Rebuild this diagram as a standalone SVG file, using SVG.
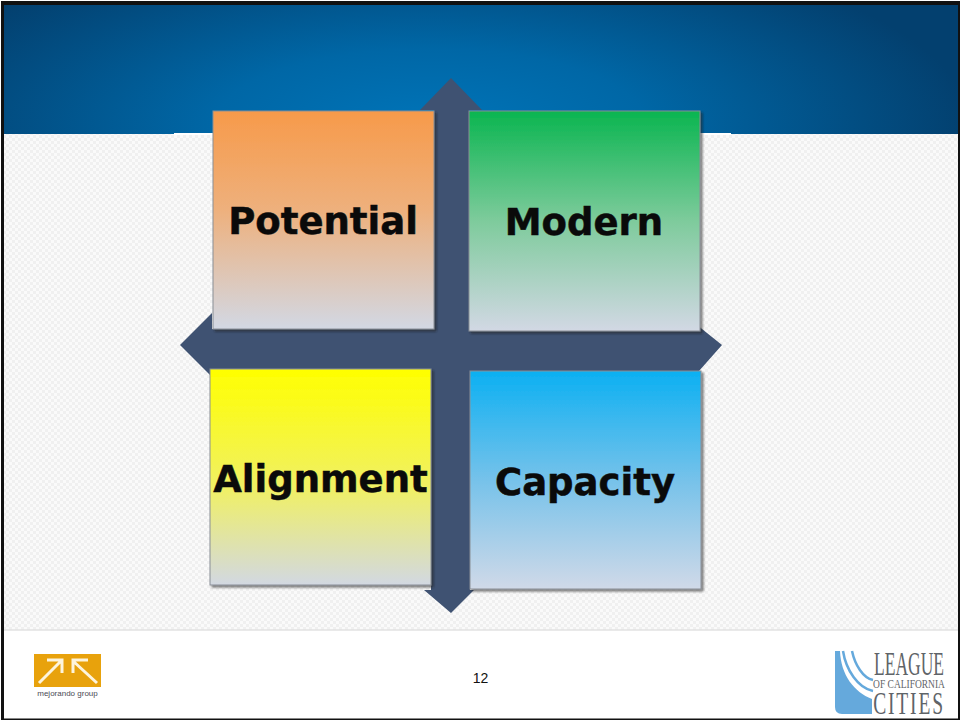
<svg xmlns="http://www.w3.org/2000/svg" width="961" height="721" viewBox="0 0 961 721">
<style>
.q{stroke:#8a8f96;stroke-width:1;filter:url(#sh)}
.t{font-family:"DejaVu Sans",Verdana,sans-serif;font-weight:700;font-size:37px;fill:#0a0a0a;stroke:#0a0a0a;stroke-width:.5;text-anchor:middle}
.lg{font-family:"Liberation Serif",serif;fill:#5f6468;text-anchor:middle}
</style>
<defs>
<pattern id="chk" width="6" height="6" patternUnits="userSpaceOnUse"><rect width="6" height="6" fill="#fafafa"/><rect width="3" height="3" fill="#f0f0f0"/><rect x="3" y="3" width="3" height="3" fill="#f0f0f0"/></pattern>
<radialGradient id="br" gradientUnits="userSpaceOnUse" cx="0" cy="0" r="1" gradientTransform="translate(430 125) scale(540 190)"><stop offset="0" stop-color="#0074b8"/><stop offset=".4" stop-color="#0067a6"/><stop offset="1" stop-color="#03406f"/></radialGradient>
<linearGradient id="go" x1="0" x2="0" y1="0" y2="1"><stop offset="0" stop-color="#f79a4a"/><stop offset=".45" stop-color="#eeb07c"/><stop offset="1" stop-color="#d2d8e4"/></linearGradient>
<linearGradient id="gg" x1="0" x2="0" y1="0" y2="1"><stop offset="0" stop-color="#0ab550"/><stop offset=".5" stop-color="#7ecb9c"/><stop offset="1" stop-color="#d2d8e4"/></linearGradient>
<linearGradient id="gy" x1="0" x2="0" y1="0" y2="1"><stop offset="0" stop-color="#ffff00"/><stop offset=".55" stop-color="#f0f064"/><stop offset="1" stop-color="#d2d8e2"/></linearGradient>
<linearGradient id="gb" x1="0" x2="0" y1="0" y2="1"><stop offset="0" stop-color="#0cb0f2"/><stop offset=".5" stop-color="#76c2ea"/><stop offset="1" stop-color="#d0d9e8"/></linearGradient>
<filter id="sh" x="-5%" y="-5%" width="112%" height="112%"><feDropShadow dx="2" dy="2" stdDeviation="1.2" flood-color="#222" flood-opacity=".6"/></filter>
</defs>
<rect width="961" height="721" fill="#fff"/>
<rect id="panel" x="4" y="134" width="954" height="496" fill="url(#chk)"/>
<line x1="4" y1="630" x2="958" y2="630" stroke="#e2e2e2" stroke-width="1.500"/>
<rect id="banner" x="4" y="5" width="954" height="129" fill="url(#br)"/>
<rect x="174" y="133" width="557" height="2" fill="#fff"/>
<g id="cross"><path d="M451 78L482 110H469V325H697L722 345L699 371H470V590H474L451 613L424 590H431V369H212V377L180 345L212 313V329H434V110H420Z" fill="#3f5272"/></g>
<g id="potential"><rect class="q" x="213" y="111" width="221" height="218" fill="url(#go)"/><text class="t" x="323" y="234">Potential</text></g>
<g id="modern"><rect class="q" x="469" y="111" width="231" height="220" fill="url(#gg)"/><text class="t" x="584" y="235">Modern</text></g>
<g id="alignment"><rect class="q" x="210" y="369" width="221" height="216" fill="url(#gy)"/><text class="t" x="320.500" y="492">Alignment</text></g>
<g id="capacity"><rect class="q" x="470" y="371" width="231" height="218" fill="url(#gb)"/><text class="t" x="585" y="495">Capacity</text></g>
<text id="page" x="480.500" y="683" font-family="Liberation Sans, Arial, sans-serif" font-size="14" text-anchor="middle" fill="#111">12</text>
<g id="logo-mejorando">
<rect x="34" y="654" width="67" height="33" fill="#e8a20c"/>
<path d="M39 683L61 661M47 660H62V673M97 683L73 661M88 660H73V673" fill="none" stroke="#fdf4dc" stroke-width="3"/>
<text x="67.500" y="696" font-family="Liberation Sans, Arial, sans-serif" font-size="8" text-anchor="middle" fill="#4a4a55">mejorando group</text>
</g>
<g id="logo-league">
<path d="M835 651H840C841 675 854 692 872 699V714H842Q835 714 835 707Z" fill="#65a9dc"/>
<path d="M843 651C846 670 858 688 873 691M852 651C855 665 863 678 873 680" fill="none" stroke="#65a9dc" stroke-width="2.500"/>
<text class="lg" transform="translate(909 675) scale(.515 1)" font-size="34">LEAGUE</text>
<text class="lg" transform="translate(909 688) scale(.79 1)" font-size="12">OF CALIFORNIA</text>
<text class="lg" transform="translate(909 714) scale(.61 1)" font-size="32" letter-spacing="3">CITIES</text>
</g>
<path id="frame" d="M1 1H960V720H1ZM4 5V718.500H958V5Z" fill="#111" fill-rule="evenodd"/>
</svg>
